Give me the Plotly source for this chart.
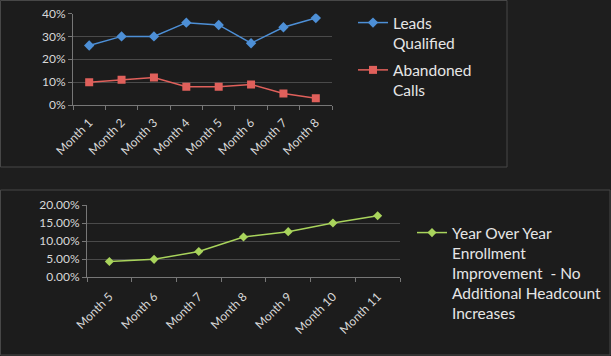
import plotly.graph_objects as go

months_top = ["Month 1", "Month 2", "Month 3", "Month 4", "Month 5", "Month 6", "Month 7", "Month 8"]
leads_qualified = [0.26, 0.30, 0.30, 0.36, 0.35, 0.27, 0.34, 0.38]
abandoned_calls = [0.10, 0.11, 0.12, 0.08, 0.08, 0.09, 0.05, 0.03]

months_bottom = ["Month 5", "Month 6", "Month 7", "Month 8", "Month 9", "Month 10", "Month 11"]
yoy_enrollment = [0.043, 0.049, 0.071, 0.111, 0.126, 0.150, 0.170]

W, H = 611, 356
BG_OUT = "#1e1e1e"
BG_PANEL = "#1c1c1c"
GRID = "#4a4a4a"
TXT = "#e6e6e6"
TICKTXT = "#d8d8d8"
FONT = "Lato"

def px_x(x):
    return x / W

def px_y(y):
    return 1 - y / H

fig = go.Figure()

fig.add_trace(go.Scatter(
    x=months_top, y=leads_qualified, name="Leads<br>Qualified",
    mode="lines+markers", line=dict(color="#4d8fd6", width=1.5),
    marker=dict(symbol="diamond", size=8, color="#4d8fd6"),
    xaxis="x", yaxis="y", legend="legend", legendgroup="a"))
fig.add_trace(go.Scatter(
    x=months_top, y=abandoned_calls, name="Abandoned<br>Calls",
    mode="lines+markers", line=dict(color="#e0605b", width=1.5),
    marker=dict(symbol="square", size=8, color="#e0605b"),
    xaxis="x", yaxis="y", legend="legend", legendgroup="b"))
fig.add_trace(go.Scatter(
    x=months_bottom, y=yoy_enrollment,
    name="Year Over Year<br>Enrollment<br>Improvement  - No<br>Additional Headcount<br>Increases",
    mode="lines+markers", line=dict(color="#a9d45c", width=1.5),
    marker=dict(symbol="diamond", size=7, color="#a9d45c"),
    xaxis="x2", yaxis="y2", legend="legend2"))

axis_common = dict(
    showline=True, linecolor="#777777", linewidth=1,
    tickfont=dict(family=FONT, size=12, color=TICKTXT),
    ticks="outside", ticklen=4, tickcolor="#777777",
    automargin=False,
)

fig.update_layout(
    width=W, height=H,
    margin=dict(l=0, r=0, t=0, b=0, pad=0, autoexpand=False),
    paper_bgcolor=BG_OUT, plot_bgcolor=BG_PANEL,
    font=dict(family=FONT, color=TXT),
    xaxis=dict(domain=[px_x(73), px_x(332)], anchor="y", type="category",
               range=[-0.5, 7.5], tickangle=-45, tickson="boundaries",
               ticklabelstandoff=5, showgrid=False, **axis_common),
    yaxis=dict(domain=[px_y(105), px_y(13.5)], anchor="x", range=[0, 0.4],
               dtick=0.1, tickformat=".0%", showgrid=True, gridcolor=GRID,
               zeroline=False, **axis_common),
    xaxis2=dict(domain=[px_x(87), px_x(400)], anchor="y2", type="category",
                range=[-0.5, 6.5], tickangle=-45, tickson="boundaries",
                ticklabelstandoff=7, showgrid=False, **axis_common),
    yaxis2=dict(domain=[px_y(277), px_y(205)], anchor="x2", range=[0, 0.2],
                dtick=0.05, tickformat=".2%", showgrid=True, gridcolor=GRID,
                zeroline=False, **axis_common),
    legend=dict(x=px_x(353), y=px_y(6), xanchor="left", yanchor="top",
                bgcolor="rgba(0,0,0,0)", font=dict(family=FONT, size=15.5, color=TXT),
                valign="top", tracegroupgap=4, itemwidth=30),
    legend2=dict(x=px_x(412), y=px_y(216), xanchor="left", yanchor="top",
                 bgcolor="rgba(0,0,0,0)", font=dict(family=FONT, size=15.5, color=TXT),
                 valign="top", itemwidth=30),
    shapes=[
        dict(type="rect", xref="paper", yref="paper",
             x0=px_x(0.5), x1=px_x(507), y0=px_y(167), y1=px_y(0.5),
             fillcolor=BG_PANEL, line=dict(color="#474747", width=1), layer="below"),
        dict(type="rect", xref="paper", yref="paper",
             x0=px_x(0.5), x1=px_x(610), y0=px_y(355), y1=px_y(190),
             fillcolor=BG_PANEL, line=dict(color="#474747", width=1), layer="below"),
    ],
)

fig.write_html("out.html",
               config={"displayModeBar": False},
               post_script="document.body.style.margin='0';document.body.style.overflow='hidden';"
                           "document.body.style.background='#1e1e1e';")
